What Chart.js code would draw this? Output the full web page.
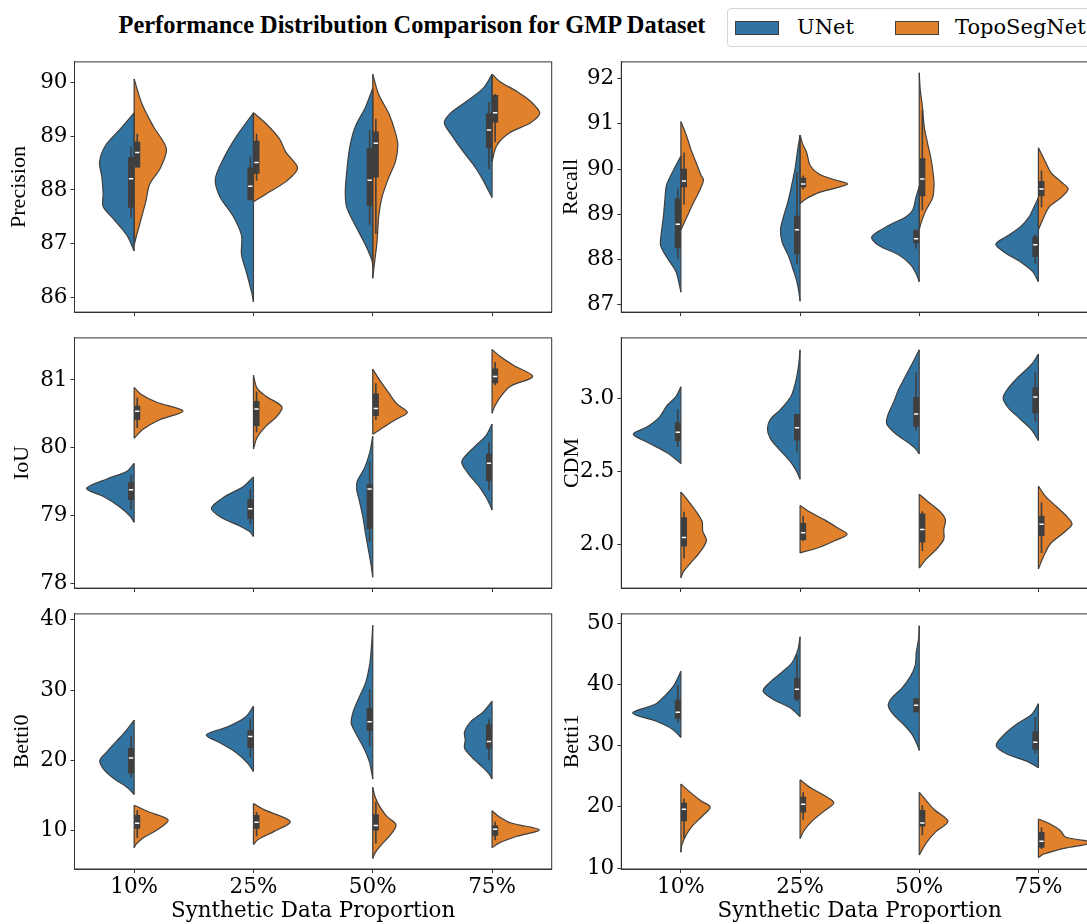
<!DOCTYPE html>
<html>
<head>
<meta charset="utf-8">
<script src="https://cdn.jsdelivr.net/npm/chart.js@4.4.1/dist/chart.umd.min.js"></script>
<style>
  body { margin: 0; width: 1087px; height: 924px; overflow: hidden; background: #fff; position: relative; }
  canvas { position: absolute; }
  #title { position: absolute; left: 0; width: 824px; top: 12px; text-align: center; font: bold 24.4px "Liberation Serif"; line-height: 25px; color: #000; white-space: nowrap; }
  #legend { position: absolute; left: 727px; top: 8px; width: 380px; height: 37px; border: 1px solid #d6d6d6; border-radius: 4px; background: #fff; }
  .patch { position: absolute; top: 12px; width: 42px; height: 12px; border: 1px solid #3f3f3f; }
  .lab { position: absolute; top: 8px; font: 21px "DejaVu Serif"; line-height: 21px; color: #000; white-space: nowrap; }
</style>
</head>
<body>
<div id="title">Performance Distribution Comparison for GMP Dataset</div>
<div id="legend">
  <div class="patch" style="left:7px;background:#3274a1"></div><div class="lab" style="left:69px">UNet</div>
  <div class="patch" style="left:167px;background:#e1812c"></div><div class="lab" style="left:227px">TopoSegNet</div>
</div>
<canvas id="c0" width="560" height="282"></canvas>
<canvas id="c1" width="540" height="282"></canvas>
<canvas id="c2" width="560" height="282"></canvas>
<canvas id="c3" width="540" height="282"></canvas>
<canvas id="c4" width="560" height="326"></canvas>
<canvas id="c5" width="540" height="326"></canvas>
<script>
const categories = ['10%', '25%', '50%', '75%'];
const models = ['UNet', 'TopoSegNet'];
const modelColors = ['#3274a1', '#e1812c'];
const edgeColor = '#3f3f3f';

// violin outlines per category: [value, half width in category units], top to bottom
// boxes per category: [whisker low, q1, median, q3, whisker high]

const precisionUNet = [
  [[89.44,0],[89.13,.12],[88.83,.24],[88.53,.29],[88.23,.27],[87.93,.26],[87.69,.26],[87.45,.17],[87.15,.06],[86.86,0]],
  [[89.44,0],[89.01,.14],[88.59,.25],[88.20,.32],[87.87,.28],[87.51,.17],[87.15,.10],[86.79,.10],[86.44,.056],[86.08,.014],[85.91,0]],
  [[89.90,0],[89.55,.06],[89.19,.145],[88.83,.19],[88.41,.215],[87.99,.23],[87.69,.22],[87.33,.145],[86.97,.06],[86.68,.006],[86.56,0]],
  [[90.16,0],[89.90,.073],[89.66,.21],[89.43,.35],[89.25,.40],[89.01,.335],[88.71,.24],[88.47,.157],[88.23,.087],[87.99,.031],[87.86,0]]
];
const precisionTopo = [
  [[90.07,0],[89.61,.065],[89.19,.16],[88.77,.27],[88.41,.22],[88.11,.13],[87.81,.10],[87.51,.065],[87.15,.02],[86.97,0]],
  [[89.44,0],[89.25,.10],[88.95,.22],[88.71,.27],[88.41,.37],[88.17,.28],[87.93,.11],[87.78,0]],
  [[90.16,0],[89.78,.05],[89.43,.134],[89.07,.19],[88.83,.21],[88.53,.19],[88.23,.134],[87.87,.078],[87.51,.05],[87.03,.036],[86.68,.017],[86.35,0]],
  [[90.16,0],[90.02,.067],[89.84,.207],[89.66,.32],[89.43,.40],[89.25,.32],[89.07,.15],[88.83,.04],[88.53,0]]
];
const precisionUNetBox = [[87.48,87.67,88.21,88.61,88.81],[87.81,87.81,88.07,88.42,88.62],[87.35,87.70,88.18,88.78,89.12],[88.39,88.78,89.12,89.43,89.64]];
const precisionTopoBox = [[88.42,88.42,88.70,88.90,89.05],[88.17,88.30,88.51,88.92,89.05],[87.18,88.23,88.87,89.09,89.33],[88.89,89.26,89.44,89.77,89.79]];
const precisionTicks = [86, 87, 88, 89, 90];
const precisionRange = [85.72, 90.39];

const recallUNet = [
  [[90.29,0],[90.01,.056],[89.65,.12],[89.30,.135],[88.94,.147],[88.59,.164],[88.31,.17],[88.03,.113],[87.74,.042],[87.46,.014],[87.28,0]],
  [[90.75,0],[90.43,.02],[90.01,.042],[89.65,.07],[89.30,.10],[88.94,.14],[88.66,.164],[88.38,.15],[88.10,.10],[87.81,.062],[87.53,.028],[87.25,.008],[87.08,0]],
  [[89.62,0],[89.37,.028],[89.09,.056],[88.94,.113],[88.80,.226],[88.63,.339],[88.49,.40],[88.31,.339],[88.10,.17],[87.88,.07],[87.67,.023],[87.51,0]],
  [[89.37,0],[89.16,.037],[88.94,.079],[88.73,.15],[88.52,.262],[88.34,.358],[88.17,.29],[87.95,.15],[87.74,.05],[87.51,0]]
];
const recallTopo = [
  [[91.05,0],[90.78,.042],[90.43,.085],[90.15,.127],[89.86,.17],[89.76,.19],[89.51,.155],[89.23,.10],[88.94,.05],[88.66,0]],
  [[90.75,0],[90.57,.02],[90.36,.056],[90.08,.085],[89.90,.155],[89.76,.296],[89.67,.40],[89.58,.296],[89.48,.155],[89.33,.042],[89.24,0]],
  [[92.13,0],[91.77,.008],[91.35,.028],[90.93,.042],[90.57,.07],[90.22,.099],[89.86,.119],[89.65,.124],[89.37,.113],[89.09,.056],[88.80,.014],[88.66,0]],
  [[90.47,0],[90.22,.048],[89.93,.104],[89.72,.19],[89.56,.25],[89.37,.19],[89.16,.09],[88.87,.034],[88.66,0]]
];
const recallUNetBox = [[88.01,88.25,88.78,89.35,89.57],[87.90,88.12,88.66,88.97,89.93],[88.24,88.36,88.46,88.66,88.66],[87.91,88.06,88.33,88.51,88.56]];
const recallTopoBox = [[89.21,89.60,89.74,90.01,90.37],[89.55,89.60,89.67,89.81,89.86],[89.09,89.40,89.78,90.24,91.31],[89.16,89.40,89.56,89.74,89.97]];
const recallTicks = [87, 88, 89, 90, 91, 92];
const recallRange = [86.84, 92.37];

const iouUNet = [
  [[79.77,0],[79.65,.063],[79.54,.228],[79.40,.40],[79.28,.257],[79.13,.123],[78.99,.033],[78.90,0]],
  [[79.57,0],[79.42,.09],[79.28,.24],[79.11,.353],[78.97,.27],[78.85,.12],[78.76,.03],[78.69,0]],
  [[80.17,0],[79.94,.024],[79.70,.069],[79.51,.129],[79.39,.135],[79.23,.114],[78.99,.084],[78.76,.063],[78.52,.039],[78.28,.015],[78.09,0]],
  [[80.35,0],[80.17,.054],[80.02,.144],[79.80,.254],[79.63,.204],[79.44,.114],[79.28,.054],[79.16,.018],[79.08,0]]
];
const iouTopo = [
  [[80.89,0],[80.79,.057],[80.67,.19],[80.54,.41],[80.41,.21],[80.27,.072],[80.14,0]],
  [[81.07,0],[80.88,.03],[80.76,.105],[80.60,.24],[80.46,.195],[80.32,.105],[80.15,.03],[79.98,0]],
  [[81.16,0],[81.02,.05],[80.83,.126],[80.65,.20],[80.52,.29],[80.41,.186],[80.29,.08],[80.20,0]],
  [[81.45,0],[81.35,.066],[81.21,.186],[81.05,.341],[80.91,.156],[80.74,.066],[80.60,.02],[80.51,0]]
];
const iouUNetBox = [[79.08,79.23,79.38,79.49,79.60],[78.87,78.95,79.10,79.24,79.39],[78.61,78.80,79.39,79.46,79.80],[79.37,79.51,79.77,79.91,80.08]];
const iouTopoBox = [[80.29,80.41,80.54,80.62,80.74],[80.23,80.32,80.57,80.69,80.83],[80.41,80.47,80.58,80.80,80.95],[80.92,80.95,81.05,81.17,81.26]];
const iouTicks = [78, 79, 80, 81];
const iouRange = [77.93, 81.62];

const cdmUNet = [
  [[3.079,0],[3.013,.04],[2.947,.119],[2.870,.18],[2.804,.282],[2.754,.40],[2.695,.274],[2.629,.119],[2.585,.048],[2.552,0]],
  [[3.332,0],[3.233,.011],[3.123,.034],[3.013,.076],[2.925,.161],[2.859,.246],[2.793,.274],[2.727,.251],[2.662,.189],[2.574,.09],[2.508,.034],[2.446,0]],
  [[3.332,0],[3.233,.062],[3.145,.119],[3.057,.175],[2.969,.217],[2.892,.26],[2.826,.274],[2.760,.203],[2.695,.09],[2.651,.028],[2.618,0]],
  [[3.303,0],[3.233,.056],[3.145,.169],[3.068,.254],[3.002,.296],[2.936,.254],[2.859,.155],[2.782,.056],[2.710,0]]
];
const cdmTopo = [
  [[2.358,0],[2.310,.05],[2.233,.121],[2.156,.178],[2.090,.183],[2.024,.214],[1.936,.15],[1.870,.079],[1.815,.023],[1.771,0]],
  [[2.266,0],[2.222,.079],[2.167,.206],[2.112,.316],[2.068,.395],[2.024,.29],[1.980,.164],[1.941,0]],
  [[2.343,0],[2.288,.079],[2.222,.178],[2.167,.22],[2.101,.206],[2.035,.206],[1.958,.135],[1.892,.051],[1.837,0]],
  [[2.398,0],[2.332,.056],[2.255,.155],[2.189,.24],[2.138,.282],[2.079,.212],[2.002,.099],[1.914,.042],[1.831,0]]
];
const cdmUNetBox = [[2.666,2.705,2.767,2.833,2.925],[2.629,2.710,2.798,2.892,2.892],[2.778,2.804,2.892,3.009,3.178],[2.837,2.897,3.009,3.073,3.178]];
const cdmTopoBox = [[1.903,1.985,2.046,2.185,2.222],[2.020,2.029,2.079,2.145,2.196],[1.954,2.013,2.101,2.211,2.226],[1.941,2.057,2.138,2.196,2.288]];
const cdmTicks = [2.0, 2.5, 3.0];
const cdmRange = [1.70, 3.413];

const betti0UNet = [
  [[25.72,0],[24.09,.075],[22.70,.15],[21.30,.225],[20.00,.288],[18.74,.255],[17.35,.165],[16.19,.06],[15.16,0]],
  [[27.72,0],[26.19,.066],[24.79,.216],[23.63,.396],[22.47,.276],[21.07,.141],[19.67,.051],[18.42,0]],
  [[39.21,0],[36.65,.009],[33.86,.024],[31.07,.06],[28.74,.12],[26.88,.165],[25.26,.18],[23.63,.135],[21.77,.075],[19.91,.03],[18.28,.009],[17.35,0]],
  [[28.42,0],[26.88,.075],[25.49,.18],[24.09,.231],[22.93,.225],[21.77,.231],[20.37,.165],[18.98,.075],[18.05,.024],[17.35,0]]
];
const betti0Topo = [
  [[13.63,0],[12.70,.12],[11.53,.285],[10.14,.195],[8.98,.075],[8.05,.015],[7.58,0]],
  [[13.86,0],[12.93,.099],[11.30,.309],[9.91,.174],[8.74,.039],[8.05,0]],
  [[16.19,0],[14.79,.02],[13.40,.06],[12.00,.12],[10.84,.195],[9.44,.15],[8.05,.075],[6.88,.021],[6.05,0]],
  [[12.84,0],[12.00,.06],[11.07,.165],[10.14,.396],[9.21,.21],[8.28,.06],[7.58,0]]
];
const betti0UNetBox = [[17.58,18.14,20.33,21.77,23.40],[20.37,21.77,23.40,24.33,25.95],[22.00,24.19,25.49,27.44,30.14],[20.00,21.67,22.70,25.12,25.86]];
const betti0TopoBox = [[8.98,10.28,11.07,12.23,12.93],[9.21,10.28,11.21,12.23,12.70],[8.19,10.05,10.74,12.33,14.09],[8.65,9.30,10.23,10.74,11.30]];
const betti0Ticks = [10, 20, 30, 40];
const betti0Range = [4.56, 40.84];

const betti1UNet = [
  [[42.11,0],[39.87,.057],[38.27,.127],[36.77,.212],[35.33,.405],[34.00,.212],[32.67,.071],[31.33,0]],
  [[47.76,0],[45.73,.017],[43.60,.065],[42.00,.15],[40.40,.249],[38.91,.311],[37.47,.221],[36.13,.079],[34.69,0]],
  [[49.57,0],[47.33,.006],[45.20,.025],[43.07,.034],[41.20,.076],[39.33,.147],[37.73,.232],[36.51,.26],[35.07,.218],[33.47,.133],[31.87,.062],[30.27,.02],[29.20,0]],
  [[36.83,0],[35.07,.057],[33.47,.184],[31.60,.297],[30.00,.354],[28.67,.269],[27.33,.085],[26.37,0]]
];
const betti1Topo = [
  [[23.71,0],[22.27,.085],[20.93,.17],[19.97,.246],[18.53,.184],[16.93,.099],[15.33,.042],[13.73,.008],[12.56,0]],
  [[24.40,0],[23.07,.091],[21.84,.204],[20.67,.283],[19.33,.204],[17.73,.105],[16.13,.034],[14.80,0]],
  [[22.37,0],[21.20,.051],[19.60,.122],[17.63,.241],[15.87,.136],[14.27,.065],[12.93,.023],[12.13,0]],
  [[18.00,0],[17.20,.099],[16.13,.184],[15.07,.226],[14.16,.45],[13.20,.212],[12.24,.042],[11.71,0]]
];
const betti1UNetBox = [[33.73,34.37,35.44,37.47,39.87],[37.20,37.47,39.17,41.04,44.77],[35.44,35.44,36.56,37.73,37.73],[28.67,29.31,30.53,32.29,34.64]];
const betti1TopoBox = [[14.80,17.63,19.60,20.67,21.31],[17.89,19.07,20.40,21.63,22.37],[15.33,16.77,17.36,19.49,20.24],[13.09,13.31,14.37,15.87,16.67]];
const betti1Ticks = [10, 20, 30, 40, 50];
const betti1Range = [9.84, 51.49];

// panel layout
const colLeft = [0, 560];
const axisWidth = [74.5, 61.3];
const padRight = [8.3, 2];
const rowTop = [46, 322, 598];
const xAxisHeight = [11.5, 11, 55];

const panels = [
  { label: 'Precision', unet: precisionUNet, topo: precisionTopo, unetBox: precisionUNetBox, topoBox: precisionTopoBox, ticks: precisionTicks, range: precisionRange, col: 0, row: 0, labelPad: 8 },
  { label: 'Recall', unet: recallUNet, topo: recallTopo, unetBox: recallUNetBox, topoBox: recallTopoBox, ticks: recallTicks, range: recallRange, col: 1, row: 0, labelPad: 0 },
  { label: 'IoU', unet: iouUNet, topo: iouTopo, unetBox: iouUNetBox, topoBox: iouTopoBox, ticks: iouTicks, range: iouRange, col: 0, row: 1, labelPad: 11 },
  { label: 'CDM', unet: cdmUNet, topo: cdmTopo, unetBox: cdmUNetBox, topoBox: cdmTopoBox, ticks: cdmTicks, range: cdmRange, col: 1, row: 1, labelPad: 1, decimals: 1 },
  { label: 'Betti0', unet: betti0UNet, topo: betti0Topo, unetBox: betti0UNetBox, topoBox: betti0TopoBox, ticks: betti0Ticks, range: betti0Range, col: 0, row: 2, labelPad: 11 },
  { label: 'Betti1', unet: betti1UNet, topo: betti1Topo, unetBox: betti1UNetBox, topoBox: betti1TopoBox, ticks: betti1Ticks, range: betti1Range, col: 1, row: 2, labelPad: 1 }
];

// box frame round the plot area (all four spines)
const frame = {
  id: 'frame',
  afterDraw(chart) {
    const { ctx, chartArea: a } = chart;
    ctx.save();
    ctx.strokeStyle = '#333';
    ctx.lineWidth = 1;
    ctx.strokeRect(a.left, a.top, a.right - a.left, a.bottom - a.top);
    ctx.restore();
  }
};

function halfViolin(outline, i, side, color) {
  const sets = [];
  sets.push({
    data: outline.map(p => ({ x: i + side * p[1], y: p[0] })),
    backgroundColor: color, borderColor: edgeColor, borderWidth: 1.2,
    fill: 'shape', tension: 0.3, pointRadius: 0, order: 3
  });
  // the split edge in the middle
  sets.push({
    data: [{ x: i, y: outline[0][0] }, { x: i, y: outline[outline.length - 1][0] }],
    borderColor: edgeColor, borderWidth: 1.2, pointRadius: 0, fill: false, order: 2
  });
  return sets;
}

function innerBox(b, i, side) {
  const xb = i + side * 0.026;
  return [
    { data: [{ x: xb, y: b[0] }, { x: xb, y: b[4] }], borderColor: edgeColor, borderWidth: 1.6, pointRadius: 0, fill: false, order: 1 },
    { data: [{ x: xb, y: b[1] }, { x: xb, y: b[3] }], borderColor: edgeColor, borderWidth: 6, borderCapStyle: 'butt', pointRadius: 0, fill: false, order: 1 },
    { data: [{ x: xb - 0.018, y: b[2] }, { x: xb + 0.018, y: b[2] }], borderColor: '#ffffff', borderWidth: 1.5, borderCapStyle: 'butt', pointRadius: 0, fill: false, order: 0 }
  ];
}

panels.forEach((p, k) => {
  const canvas = document.getElementById('c' + k);
  canvas.style.left = colLeft[p.col] + 'px';
  canvas.style.top = rowTop[p.row] + 'px';
  const bottomRow = p.row === 2;

  let datasets = [];
  categories.forEach((c, i) => {
    datasets = datasets.concat(halfViolin(p.unet[i], i, -1, modelColors[0]));
    datasets = datasets.concat(halfViolin(p.topo[i], i, 1, modelColors[1]));
    datasets = datasets.concat(innerBox(p.unetBox[i], i, -1));
    datasets = datasets.concat(innerBox(p.topoBox[i], i, 1));
  });

  new Chart(canvas, {
    type: 'line',
    data: { datasets: datasets },
    options: {
      responsive: false,
      animation: false,
      devicePixelRatio: 1,
      layout: { padding: { left: 0, right: padRight[p.col], top: 10, bottom: 0 } },
      plugins: { legend: { display: false }, tooltip: { enabled: false } },
      elements: { point: { radius: 0, hoverRadius: 0 } },
      scales: {
        x: {
          type: 'linear', min: -0.5, max: 3.5,
          afterBuildTicks: s => { s.ticks = categories.map((c, i) => ({ value: i })); },
          afterFit: s => { s.height = xAxisHeight[p.row]; },
          grid: { display: true, drawOnChartArea: false, drawTicks: true, tickLength: 4, tickColor: '#333' },
          border: { display: true, color: '#333', width: 1 },
          ticks: {
            display: bottomRow, autoSkip: false, maxRotation: 0, padding: 2, color: '#000',
            font: { family: 'DejaVu Serif', size: 21.5 },
            callback: v => categories[v]
          },
          title: {
            display: bottomRow, text: 'Synthetic Data Proportion', color: '#000',
            font: { family: 'DejaVu Serif', size: 21.4, lineHeight: 1.2 }, padding: { bottom: 0 }
          }
        },
        y: {
          type: 'linear', min: p.range[0], max: p.range[1],
          afterBuildTicks: s => { s.ticks = p.ticks.map(v => ({ value: v })); },
          afterFit: s => { s.width = axisWidth[p.col]; },
          grid: { display: true, drawOnChartArea: false, drawTicks: true, tickLength: 4, tickColor: '#333' },
          border: { display: true, color: '#333', width: 1 },
          ticks: {
            padding: 3, color: '#000',
            font: { family: 'DejaVu Serif', size: 21.5 },
            callback: v => p.decimals ? v.toFixed(p.decimals) : String(v)
          },
          title: {
            display: true, text: p.label, color: '#000',
            font: { family: 'Liberation Serif', size: 22, lineHeight: 1 }, padding: { top: p.labelPad }
          }
        }
      }
    },
    plugins: [frame]
  });
});
</script>
</body>
</html>
